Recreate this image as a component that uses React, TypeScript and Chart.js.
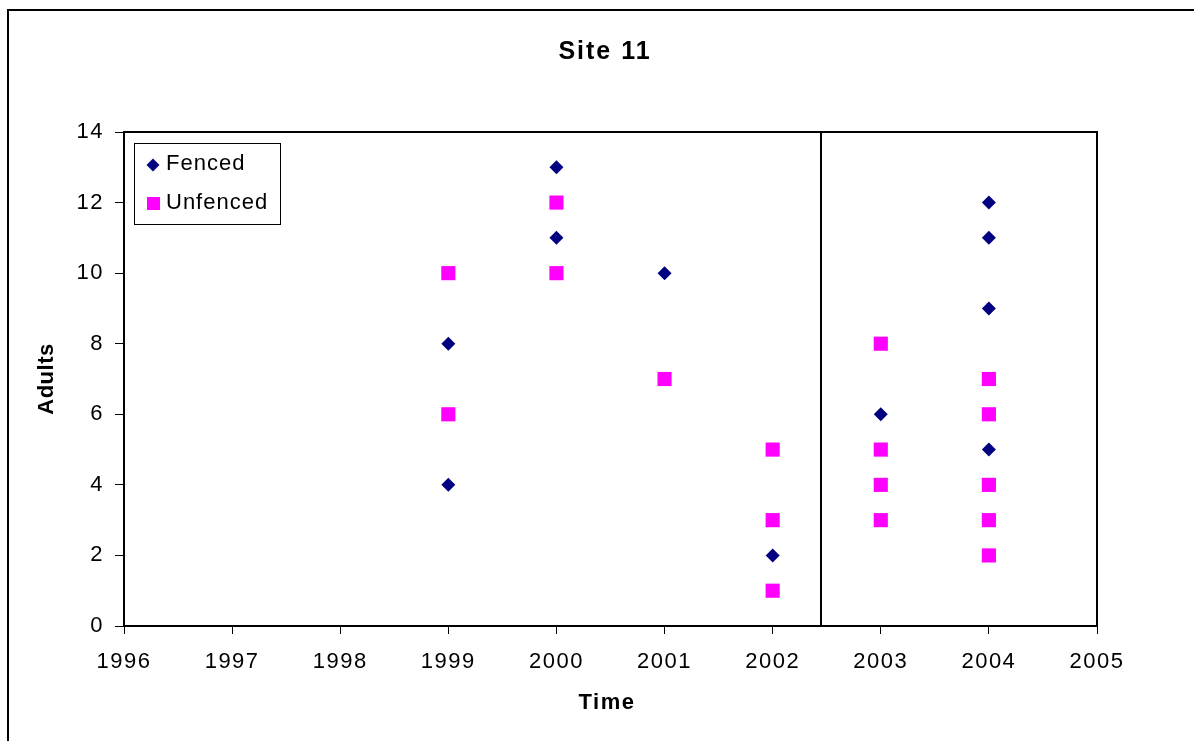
import React, { useEffect, useRef } from "react";
import { Chart, registerables } from "chart.js";

Chart.register(...registerables);

const fencedYears = [1999, 1999, 2000, 2000, 2001, 2002, 2003, 2004, 2004, 2004, 2004];
const fencedAdults = [8, 4, 13, 11, 10, 2, 6, 12, 11, 9, 5];
const unfencedYears = [1999, 1999, 2000, 2000, 2001, 2002, 2002, 2002, 2003, 2003, 2003, 2003, 2004, 2004, 2004, 2004, 2004];
const unfencedAdults = [10, 6, 12, 10, 7, 5, 3, 1, 8, 5, 4, 3, 7, 6, 4, 3, 2];
const xTicks = [1996, 1997, 1998, 1999, 2000, 2001, 2002, 2003, 2004, 2005];
const yTicks = [0, 2, 4, 6, 8, 10, 12, 14];
const dividerYear = 2002.45;
const titleText = "Site 11";
const xTitle = "Time";
const yTitle = "Adults";
const seriesNames = ["Fenced", "Unfenced"];

const FONT = "'Liberation Sans', Arial, sans-serif";
const NAVY = "#000080";
const MAGENTA = "#FF00FF";

const decorPlugin = {
  id: "decor",
  beforeDraw(chart: any) {
    const ctx = chart.ctx;
    ctx.save();
    ctx.fillStyle = "#ffffff";
    ctx.fillRect(0, 0, chart.width, chart.height);
    ctx.restore();
    ctx.letterSpacing = "1.5px";
  },
  afterDraw(chart: any) {
    const ctx = chart.ctx;
    const { left, right, top, bottom } = chart.chartArea;
    const xs = chart.scales.x;
    ctx.save();
    // outer frame
    ctx.strokeStyle = "#000";
    ctx.lineWidth = 2;
    ctx.strokeRect(8, 10, 1300, 1000);
    // plot border
    ctx.lineWidth = 2;
    ctx.strokeRect(left, top, right - left, bottom - top);
    // divider line
    const dx = Math.round(xs.getPixelForValue(dividerYear));
    ctx.beginPath();
    ctx.moveTo(dx, top);
    ctx.lineTo(dx, bottom);
    ctx.stroke();
    // title
    ctx.fillStyle = "#000";
    ctx.textAlign = "center";
    ctx.textBaseline = "middle";
    ctx.letterSpacing = "2px";
    ctx.font = `bold 25px ${FONT}`;
    ctx.fillText(titleText, 605, 52);
    ctx.letterSpacing = "1.5px";
    ctx.font = `bold 22px ${FONT}`;
    ctx.fillText(xTitle, 607, 703);
    ctx.translate(47, 379);
    ctx.rotate(-Math.PI / 2);
    ctx.letterSpacing = "0.5px";
    ctx.fillText(yTitle, 0, 0);
    ctx.setTransform(1, 0, 0, 1, 0, 0);
    // legend
    const lx = 134, ly = 143, lw = 146, lh = 81;
    ctx.lineWidth = 1;
    ctx.strokeStyle = "#000";
    ctx.fillStyle = "#fff";
    ctx.fillRect(lx, ly, lw, lh);
    ctx.strokeRect(lx + 0.5, ly + 0.5, lw, lh);
    ctx.font = `22px ${FONT}`;
    ctx.letterSpacing = "1px";
    ctx.textAlign = "left";
    ctx.textBaseline = "middle";
    // diamond
    ctx.fillStyle = NAVY;
    ctx.beginPath();
    const d1x = 153, d1y = 165, r = 6.5;
    ctx.moveTo(d1x - r, d1y);
    ctx.lineTo(d1x, d1y - r);
    ctx.lineTo(d1x + r, d1y);
    ctx.lineTo(d1x, d1y + r);
    ctx.closePath();
    ctx.fill();
    ctx.fillStyle = MAGENTA;
    ctx.fillRect(147, 197, 13, 13);
    ctx.fillStyle = "#000";
    ctx.fillText(seriesNames[0], 166, 164);
    ctx.fillText(seriesNames[1], 166, 203);
    ctx.restore();
  },
};

export default function App() {
  const ref = useRef<HTMLCanvasElement>(null);
  useEffect(() => {
    if (!ref.current) return;
    const chart = new Chart(ref.current, {
      type: "scatter",
      data: {
        datasets: [
          {
            label: seriesNames[1],
            data: unfencedYears.map((x, i) => ({ x, y: unfencedAdults[i] })),
            pointStyle: "rect",
            pointRadius: 10,
            backgroundColor: MAGENTA,
            borderColor: MAGENTA,
            borderWidth: 0,
            order: 2,
          },
          {
            label: seriesNames[0],
            data: fencedYears.map((x, i) => ({ x, y: fencedAdults[i] })),
            pointStyle: "rectRot",
            pointRadius: 7,
            backgroundColor: NAVY,
            borderColor: NAVY,
            borderWidth: 0,
            order: 1,
          },
        ],
      },
      plugins: [decorPlugin],
      options: {
        animation: false,
        responsive: false,
        devicePixelRatio: 1,
        layout: { padding: { top: 132, right: 97, left: 0, bottom: 0 } },
        plugins: {
          legend: { display: false },
          title: { display: false },
          tooltip: { enabled: false },
        },
        scales: {
          x: {
            type: "linear",
            min: 1996,
            max: 2005,
            afterFit: (s: any) => {
              s.height = 115;
            },
            afterBuildTicks: (s: any) => {
              s.ticks = xTicks.map((v) => ({ value: v }));
            },
            ticks: {
              color: "#000",
              font: { family: FONT, size: 22 },
              padding: 15,
              maxRotation: 0,
              autoSkip: false,
              callback: (v: any) => String(v),
            },
            grid: {
              drawOnChartArea: false,
              drawTicks: true,
              tickLength: 8,
              color: "#000",
              lineWidth: 1,
            },
            border: { display: false },
          },
          y: {
            type: "linear",
            min: 0,
            max: 14,
            afterFit: (s: any) => {
              s.width = 124;
            },
            afterBuildTicks: (s: any) => {
              s.ticks = yTicks.map((v) => ({ value: v }));
            },
            ticks: {
              color: "#000",
              font: { family: FONT, size: 22 },
              padding: 11,
              autoSkip: false,
            },
            grid: {
              drawOnChartArea: false,
              drawTicks: true,
              tickLength: 9,
              color: "#000",
              lineWidth: 1,
            },
            border: { display: false },
          },
        },
      },
    });
    return () => chart.destroy();
  }, []);
  return (
    <div style={{ position: "absolute", left: 0, top: 0, width: 1194, height: 741 }}>
      <canvas ref={ref} width={1194} height={741} style={{ width: 1194, height: 741, display: "block" }} />
    </div>
  );
}
